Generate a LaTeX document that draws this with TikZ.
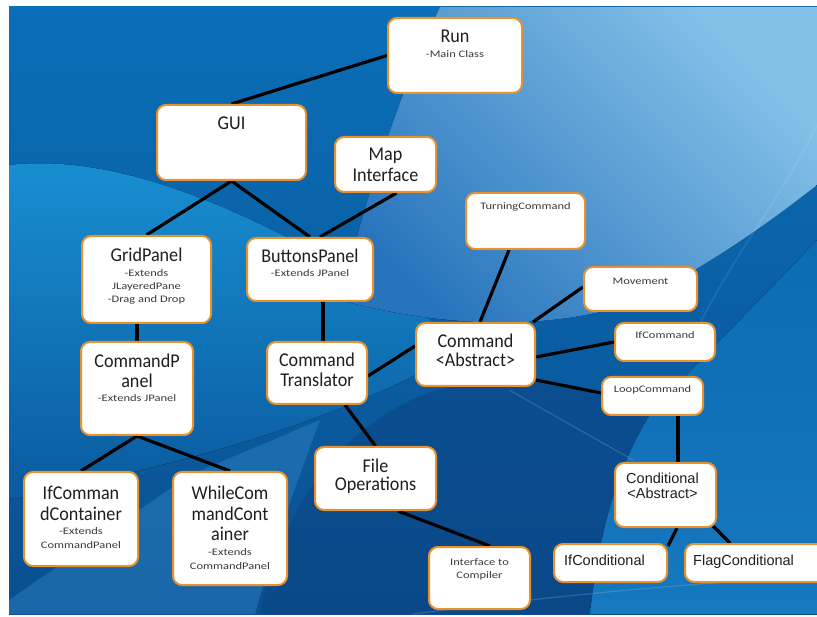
\documentclass[tikz,border=0pt]{standalone}
\usepackage{fontspec}
\setmainfont{Carlito}
\newfontfamily\mainf[FakeStretch=0.93]{Carlito}
\newfontfamily\smallf[FakeStretch=1.25]{Carlito}
\newfontfamily\arialf{Liberation Sans}
\usetikzlibrary{calc}
\definecolor{boxorange}{HTML}{E8912D}
\definecolor{txtcol}{HTML}{1E1E1E}
\definecolor{smalltxtcol}{HTML}{3A3A3A}
\definecolor{bgtop}{HTML}{0A6FB8}
\definecolor{bgbot}{HTML}{0A4F90}
\definecolor{swtop}{RGB}{24,144,211}
\definecolor{swbot}{RGB}{10,90,158}
\definecolor{trlight}{RGB}{132,193,232}
\definecolor{trdark}{RGB}{40,116,188}
\definecolor{darkc}{RGB}{10,68,132}
\definecolor{lrtop}{RGB}{11,107,179}
\definecolor{lrbot}{RGB}{22,120,190}
\definecolor{bllight}{RGB}{50,140,205}
\pgfdeclarelayer{bgl}
\pgfdeclarelayer{edgel}
\pgfsetlayers{bgl,edgel,main}
\tikzset{
  box/.style={draw=boxorange, line width=2pt, fill=white, rounded corners=9pt, inner sep=0pt},
  big/.style={font=\mainf\fontsize{19.5}{20}\selectfont, text=txtcol, inner sep=0pt, anchor=base},
  small/.style={font=\smallf\fontsize{10}{11}\selectfont, text=smalltxtcol, inner sep=0pt, anchor=base},
  arialtxt/.style={font=\arialf\fontsize{14.5}{16}\selectfont, text=txtcol, inner sep=0pt, anchor=base},
  conn/.style={line width=3.2pt, black}
}
\begin{document}
\begin{tikzpicture}[x=1pt,y=-1pt]
\useasboundingbox (0,0) rectangle (817,617);
\begin{pgfonlayer}{bgl}
\fill[white] (0,0) rectangle (817,617);
\fill[top color=bgtop, bottom color=bgbot] (9,7) rectangle (817,614);
% left swoosh
\fill[top color=swtop, bottom color=swbot]
  (9,165) .. controls (140,150) and (300,235) .. (470,345) .. controls (330,430) and (150,470) .. (9,500) -- cycle;
% top right light region
\fill[top color=trlight, bottom color=trdark, shading angle=-45]
  (440,7) -- (817,7) -- (817,185) .. controls (760,230) and (700,270) .. (640,300)
  .. controls (560,330) and (450,330) .. (340,300) .. controls (370,180) and (405,80) .. cycle;
% dark centre
\fill[darkc, opacity=0.55]
  (260,614) .. controls (280,520) and (330,430) .. (430,392) .. controls (520,370) and (600,385) .. (651,413)
  .. controls (615,470) and (598,540) .. (590,614) -- cycle;
% lower right lighter
\fill[top color=lrtop, bottom color=lrbot]
  (651,413) .. controls (615,470) and (598,540) .. (590,614) -- (817,614) -- (817,240)
  .. controls (760,300) and (700,360) .. (651,413) -- cycle;
% bottom-left light band
\fill[bllight, opacity=0.4]
  (9,600) -- (190,475) -- (320,420) .. controls (290,500) and (270,560) .. (255,614) -- (9,614) -- cycle;
% faint light lines
\draw[white, opacity=0.15, line width=1.2pt] (509,390) -- (633,460);
\draw[white, opacity=0.15, line width=1.2pt] (413,614) .. controls (560,595) and (700,582) .. (817,577);
\draw[white, opacity=0.08, line width=2pt] (817,125) .. controls (780,200) and (730,260) .. (697,330);
\end{pgfonlayer}

% boxes
\node[box, minimum width=134pt, minimum height=75pt] (run) at (455,55.5) {};
\node[big] (runT) at (455,43) {Run};
\node[small] (runS) at (455,58) {-Main Class};

\node[box, minimum width=149pt, minimum height=75pt] (gui) at (231.5,142.5) {};
\node[big] (guiT) at (231.5,130) {GUI};

\node[box, minimum width=101pt, minimum height=55pt] (map) at (385.5,164.5) {};
\node[big] (mapT1) at (385.5,161) {Map};
\node[big] (mapT2) at (385.5,182) {Interface};

\node[box, minimum width=119pt, minimum height=56pt] (turning) at (525.5,221) {};
\node[small] (turningT) at (525.5,210) {TurningCommand};

\node[box, minimum width=129pt, minimum height=87pt] (gridpanel) at (146.5,279.5) {};
\node[big] (gridT1) at (146.5,262) {GridPanel};
\node[small] (gridT2) at (146.5,277) {-Extends};
\node[small] (gridT3) at (146.5,290) {JLayeredPane};
\node[small] (gridT4) at (146.5,303) {-Drag and Drop};

\node[box, minimum width=126pt, minimum height=63pt] (buttons) at (310,269.5) {};
\node[big] (buttonsT1) at (310,263) {ButtonsPanel};
\node[small] (buttonsT2) at (310,277) {-Extends JPanel};

\node[box, minimum width=113pt, minimum height=44pt] (movement) at (640.5,289) {};
\node[small] (movementT) at (640.5,285) {Movement};

\node[box, minimum width=100pt, minimum height=38pt] (ifcommand) at (665,342) {};
\node[small] (ifcommandT) at (665,339) {IfCommand};

\node[box, minimum width=119pt, minimum height=63pt] (command) at (475.5,354.5) {};
\node[big] (commandT1) at (475.5,348) {Command};
\node[big] (commandT2) at (475.5,367) {<Abstract>};

\node[box, minimum width=101pt, minimum height=38pt] (loop) at (652.5,396) {};
\node[small] (loopT) at (652.5,393) {LoopCommand};

\node[box, minimum width=112pt, minimum height=93pt] (cmdpanel) at (137,388.5) {};
\node[big] (cmdpanelT1) at (137,368) {CommandP};
\node[big] (cmdpanelT2) at (137,388) {anel};
\node[small] (cmdpanelT3) at (137,402) {-Extends JPanel};

\node[box, minimum width=100pt, minimum height=62pt] (translator) at (317,373) {};
\node[big] (translatorT1) at (317,367) {Command};
\node[big] (translatorT2) at (317,387) {Translator};

\node[box, minimum width=121pt, minimum height=63pt] (fileops) at (375.5,478.5) {};
\node[big] (fileopsT1) at (375.5,472) {File};
\node[big] (fileopsT2) at (375.5,491) {Operations};

\node[box, minimum width=101pt, minimum height=64pt] (conditional) at (665.5,495) {};
\node[arialtxt] (conditionalT1) at (662.5,484) {Conditional};
\node[arialtxt] (conditionalT2) at (662.5,499) {<Abstract>};

\node[box, minimum width=114pt, minimum height=94pt] (ifcmdcont) at (81,519) {};
\node[big] (ifcmdcontT1) at (81,500) {IfComman};
\node[big] (ifcmdcontT2) at (81,520) {dContainer};
\node[small] (ifcmdcontT3) at (81,534) {-Extends};
\node[small] (ifcmdcontT4) at (81,548) {CommandPanel};

\node[box, minimum width=114pt, minimum height=113pt] (whilecont) at (230,528.5) {};
\node[big] (whilecontT1) at (230,500) {WhileCom};
\node[big] (whilecontT2) at (230,520) {mandCont};
\node[big] (whilecontT3) at (230,540) {ainer};
\node[small] (whilecontT4) at (230,555) {-Extends};
\node[small] (whilecontT5) at (230,569) {CommandPanel};

\node[box, minimum width=101pt, minimum height=62pt] (interface) at (479.5,578) {};
\node[small] (interfaceT1) at (479.5,565) {Interface to};
\node[small] (interfaceT2) at (479.5,578) {Compiler};

\node[box, minimum width=113pt, minimum height=38pt] (ifcond) at (610.5,563) {};
\node[arialtxt, anchor=base west] (ifcondT) at (564,565) {IfConditional};

\node[box, minimum width=145pt, minimum height=38pt] (flagcond) at (757.5,563) {};
\node[arialtxt, anchor=base west] (flagcondT) at (693,565) {FlagConditional};

% connectors
\begin{pgfonlayer}{edgel}
\draw[conn] (run.west) -- (gui.north);
\draw[conn] (gui.south) -- (gridpanel.north);
\draw[conn] (gui.south) -- (buttons.north);
\draw[conn] ($(map.south)+(11,0)$) -- ($(buttons.north)+(10,0)$);
\draw[conn] (cmdpanel.north) -- (cmdpanel.north |- gridpanel.south);
\draw[conn] ($(translator.north)+(6,0)$) -- ($(translator.north |- buttons.south)+(6,0)$);
\draw[conn] ($(translator.east)+(0,3)$) -- ($(command.west)+(0,-8.5)$);
\draw[conn] (cmdpanel.south) -- (ifcmdcont.north);
\draw[conn] (cmdpanel.south) -- (whilecont.north);
\draw[conn] ($(translator.south)+(28,0)$) -- (fileops.north);
\draw[conn] ($(fileops.south)+(22.5,0)$) -- ($(interface.north)+(10.5,0)$);
\draw[conn] ($(command.north)+(4.5,0)$) -- ($(turning.south)+(-16.5,0)$);
\draw[conn] ($(command.north east)+(-3,0)$) -- ($(movement.west)+(0,-2)$);
\draw[conn] ($(command.east)+(0,2.5)$) -- (ifcommand.west);
\draw[conn] ($(command.east)+(0,25.5)$) -- ($(loop.west)+(0,-3)$);
\draw[conn] ($(conditional.north)+(12.5,0)$) -- ($(conditional.north |- loop.south)+(12.5,0)$);
\draw[conn] ($(conditional.south)+(11.5,0)$) -- ($(ifcond.north east)+(0,3)$);
\draw[conn] ($(conditional.south east)+(-4,-2)$) -- ($(flagcond.north)+(-27.5,0)$);
\end{pgfonlayer}
\end{tikzpicture}
\end{document}
